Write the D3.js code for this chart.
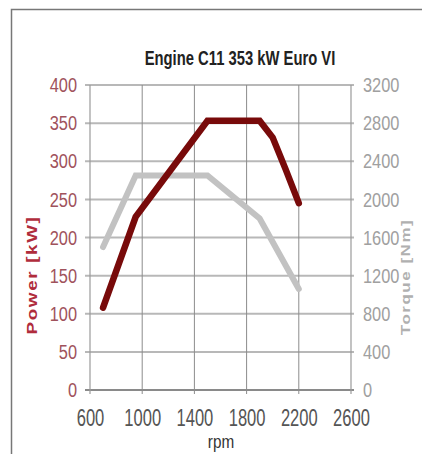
<!DOCTYPE html>
<html lang="en">
<head>
<meta charset="UTF-8">
<title>Engine C11 353 kW Euro VI</title>
<script src="https://d3js.org/d3.v7.min.js"></script>
<style>
    body { margin: 0; background: #fff; }
    text { font-family: "Liberation Sans", Arial, sans-serif; }
</style>
</head>
<body>
<svg id="chart" width="422" height="454"></svg>
<script>
// data
const powerRpm = [700, 950, 1500, 1900, 2000, 2100, 2200];
const powerKw  = [108, 227, 353, 353, 331, 289, 245];
const torqueRpm = [700, 950, 1500, 1900, 2200];
const torqueNm  = [1500, 2250, 2250, 1800, 1060];
const rpmTicks = [600, 1000, 1400, 1800, 2200, 2600];
const powerTicks = [0, 50, 100, 150, 200, 250, 300, 350, 400];
const torqueTicks = [0, 400, 800, 1200, 1600, 2000, 2400, 2800, 3200];

const svg = d3.select("#chart");
const plotL = 90, plotR = 351, plotT = 85, plotB = 390;

// outer frame
svg.append("rect")
    .attr("x", 11.5).attr("y", 9.5)
    .attr("width", 430).attr("height", 460)
    .attr("fill", "none")
    .attr("stroke", "#777")
    .attr("stroke-width", 1.5);

const x = d3.scaleLinear().domain([600, 2600]).range([plotL, plotR]);
const yP = d3.scaleLinear().domain([0, 400]).range([plotB, plotT]);
const yT = d3.scaleLinear().domain([0, 3200]).range([plotB, plotT]);

// grid
svg.append("g").selectAll("line")
    .data(powerTicks)
    .join("line")
    .attr("x1", plotL - 5).attr("x2", plotR + 3)
    .attr("y1", d => yP(d)).attr("y2", d => yP(d))
    .attr("stroke", d => d === 0 ? "#8a8a8a" : "#b8b8b8")
    .attr("stroke-width", 2);

svg.append("g").selectAll("line")
    .data(rpmTicks.slice(1, -1))
    .join("line")
    .attr("x1", d => x(d)).attr("x2", d => x(d))
    .attr("y1", plotT).attr("y2", plotB + 4)
    .attr("stroke", "#8c8c8c")
    .attr("stroke-width", 1);

svg.append("g").selectAll("line")
    .data([600, 2600])
    .join("line")
    .attr("x1", d => x(d)).attr("x2", d => x(d))
    .attr("y1", plotT).attr("y2", plotB + 4)
    .attr("stroke", "#9a9a9a")
    .attr("stroke-width", 1.2);

// axes (labels only)
const fmt = d3.format("d");
const xAxis = svg.append("g")
    .attr("transform", `translate(0,${plotB})`)
    .call(d3.axisBottom(x).tickValues(rpmTicks).tickFormat(fmt).tickSize(0).tickPadding(20));
const yAxisL = svg.append("g")
    .attr("transform", `translate(${plotL},0)`)
    .call(d3.axisLeft(yP).tickValues(powerTicks).tickFormat(fmt).tickSize(0).tickPadding(13));
const yAxisR = svg.append("g")
    .attr("transform", `translate(${plotR},0)`)
    .call(d3.axisRight(yT).tickValues(torqueTicks).tickFormat(fmt).tickSize(0).tickPadding(12));

[xAxis, yAxisL, yAxisR].forEach(a => a.select(".domain").remove());

// the source font is tall and narrow
const sx = 0.72, sy = 0.78;
xAxis.selectAll("text")
    .attr("font-size", 23)
    .attr("fill", "#555")
    .attr("dy", "0.71em")
    .attr("transform", `scale(${sx},1)`);
yAxisL.selectAll("text")
    .attr("font-size", 21)
    .attr("fill", "#a0525c")
    .attr("x", -13 / sy)
    .attr("transform", `scale(${sy},1)`);
yAxisR.selectAll("text")
    .attr("font-size", 21)
    .attr("fill", "#a0a0a0")
    .attr("x", 12 / sy)
    .attr("transform", `scale(${sy},1)`);

// series
const line = d3.line().x(d => x(d[0]));

svg.append("path")
    .datum(torqueRpm.map((r, i) => [r, torqueNm[i]]))
    .attr("d", line.y(d => yT(d[1])))
    .attr("fill", "none")
    .attr("stroke", "#c2c2c2")
    .attr("stroke-width", 6)
    .attr("stroke-linecap", "round");

svg.append("path")
    .datum(powerRpm.map((r, i) => [r, powerKw[i]]))
    .attr("d", line.y(d => yP(d[1])))
    .attr("fill", "none")
    .attr("stroke", "#780a0a")
    .attr("stroke-width", 6.5)
    .attr("stroke-linecap", "round");

// titles
svg.append("text")
    .attr("transform", "translate(240,65) scale(0.74,1)")
    .attr("text-anchor", "middle")
    .attr("font-size", 20)
    .attr("font-weight", "bold")
    .attr("fill", "#222")
    .text("Engine C11 353 kW Euro VI");

svg.append("text")
    .attr("transform", "translate(221,448) scale(0.85,1)")
    .attr("text-anchor", "middle")
    .attr("font-size", 18)
    .attr("fill", "#333")
    .text("rpm");

svg.append("text")
    .attr("transform", "translate(37,275) rotate(-90) scale(1.35,1)")
    .attr("text-anchor", "middle")
    .attr("font-size", 14)
    .attr("font-weight", "bold")
    .attr("letter-spacing", 1.2)
    .attr("fill", "#b02c3c")
    .text("Power [kW]");

svg.append("text")
    .attr("transform", "translate(410,277) rotate(-90) scale(1.3,1)")
    .attr("text-anchor", "middle")
    .attr("font-size", 13)
    .attr("font-weight", "bold")
    .attr("letter-spacing", 1.2)
    .attr("fill", "#b0b0b0")
    .text("Torque [Nm]");
</script>
</body>
</html>
